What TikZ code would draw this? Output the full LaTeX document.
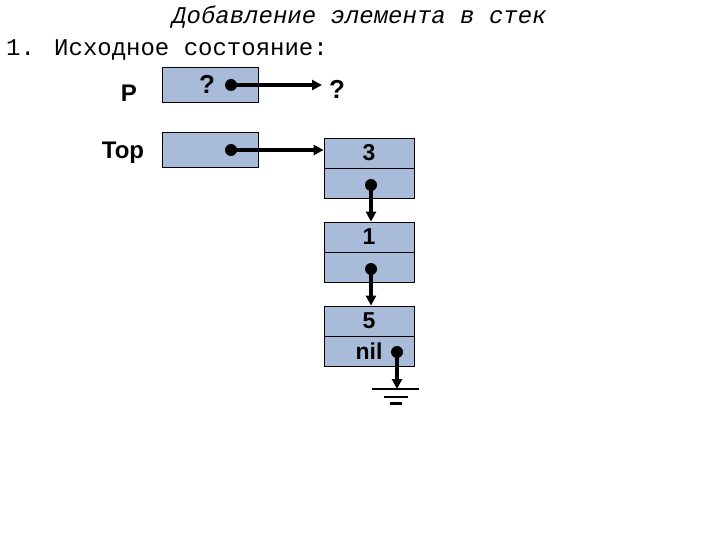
\documentclass[tikz,border=0pt]{standalone}
\usepackage{fontspec}
\setmainfont{Liberation Sans}
\newfontfamily\monof{Liberation Mono}
\usetikzlibrary{arrows.meta}
\definecolor{boxfill}{HTML}{A8BCDA}
\tikzset{
  cell/.style={draw=black, line width=0.8pt, fill=boxfill, minimum width=90pt, minimum height=30pt, inner sep=0pt, font=\bfseries\fontsize{23}{23}\selectfont},
  ptr/.style={line width=3.5pt, -{Triangle[length=10pt,width=10pt]}},
  dotc/.style={circle, fill=black, inner sep=0pt, minimum size=12pt},
  lbl/.style={font=\bfseries\fontsize{24}{24}\selectfont}
}
\begin{document}
\begin{tikzpicture}[x=1pt,y=-1pt]
\path[use as bounding box, fill=white] (0,0) rectangle (720,540);
\node[font=\monof\itshape\fontsize{24}{24}\selectfont, anchor=base west, inner sep=0pt] (title) at (172,24) {Добавление элемента в стек};
\node[font=\monof\fontsize{24}{24}\selectfont, anchor=base west, inner sep=0pt] (step) at (6,56) {1. Исходное состояние:};
\node[cell, minimum width=96pt, minimum height=35pt] (pbox) at (210,84.5) {};
\node[cell, minimum width=96pt, minimum height=35pt] (tbox) at (210,149.5) {};
\node[lbl] (plbl) at (129,93) {P};
\node[lbl] (tlbl) at (123,153) {Top};
\node[lbl, font=\bfseries\fontsize{26}{26}\selectfont] (pq) at (207,84) {?};
\node[lbl, font=\bfseries\fontsize{26}{26}\selectfont] (dq) at (337,89) {?};
\node[dotc] (pd) at (231,85) {};
\node[dotc] (td) at (231,150) {};
\node[cell] (a1) at (369,153) {3};
\node[cell] (a2) at (369,183) {};
\node[cell] (b1) at (369,237) {1};
\node[cell] (b2) at (369,267) {};
\node[cell] (c1) at (369,321) {5};
\node[cell] (c2) at (369,351) {nil};
\node[dotc] (ad) at (371,185) {};
\node[dotc] (bd) at (371,269) {};
\node[dotc] (cd) at (397,352) {};
\coordinate (pend) at (322,85);
\coordinate (gnd) at (397,389);
\draw[ptr] (pd.center) -- (pend);
\draw[ptr] (td.center) -- (a1.west |- td);
\draw[ptr] (ad.center) -- (b1.north -| ad);
\draw[ptr] (bd.center) -- (c1.north -| bd);
\draw[ptr] (cd.center) -- (gnd);
\draw[line width=2.5pt] (372,389) -- (419,389);
\draw[line width=2.5pt] (384,397) -- (408,397);
\draw[line width=2.5pt] (390,403.5) -- (402,403.5);
\end{tikzpicture}
\end{document}
